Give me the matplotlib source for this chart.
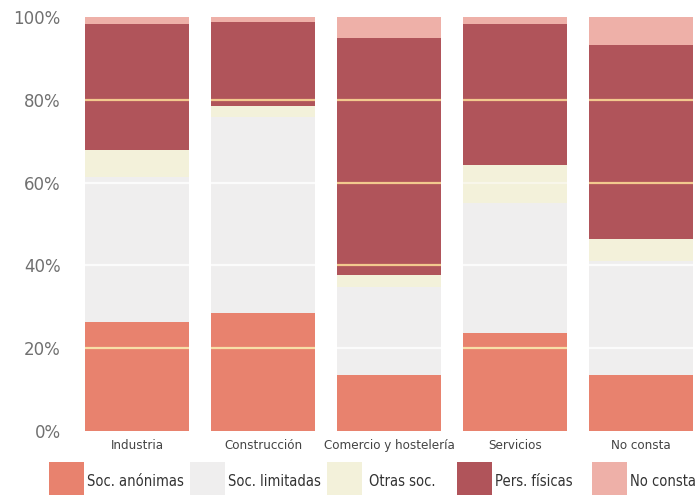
import matplotlib.pyplot as plt
import numpy as np
from matplotlib.patches import Rectangle

# Sector categories (x axis)
sectors = ["Industria", "Construcción", "Comercio y hostelería", "Servicios", "No consta"]

# Share (%) by legal form, stacked bottom to top
soc_anonimas = [26.3, 28.5, 13.5, 23.6, 13.5]
soc_limitadas = [35.0, 47.5, 21.2, 31.4, 27.5]
otras_soc = [6.6, 2.5, 2.9, 9.3, 5.5]
pers_fisicas = [30.5, 20.5, 57.4, 34.0, 46.8]
no_consta = [1.6, 1.0, 5.0, 1.7, 6.7]

series_labels = ["Soc. anónimas", "Soc. limitadas", "Otras soc.", "Pers. físicas", "No consta"]
series_values = [soc_anonimas, soc_limitadas, otras_soc, pers_fisicas, no_consta]
colors = ["#e8826e", "#efeeee", "#f3f1da", "#b0545a", "#eeb0a8"]
# grid line tint over each series (light ones wash out to white)
grid_tint = ["#f8dfa8", "#fbfbfb", "#f8f6ea", "#f2c98e", "#f8dcb8"]

yticks = [0, 20, 40, 60, 80, 100]

cond = {"family": "DejaVu Sans", "stretch": "condensed"}

fig = plt.figure(figsize=(6.97, 4.97), dpi=100)
ax = fig.add_axes([0.0933, 0.1334, 0.9067, 0.8316])

x = np.arange(len(sectors))
width = 0.83
stack = np.cumsum(np.array(series_values), axis=0)
bottom = np.zeros(len(sectors))
for vals, col in zip(series_values, colors):
    ax.bar(x, vals, width=width, bottom=bottom, color=col, edgecolor="none", zorder=1)
    bottom += np.array(vals)

# grid lines drawn across the bars only, tinted by the segment below
for i in range(len(sectors)):
    for yv in yticks[1:-1]:
        seg = int(np.searchsorted(stack[:, i], yv))
        ax.hlines(yv, x[i] - width / 2, x[i] + width / 2, color=grid_tint[seg], lw=1.6, zorder=3)

ax.set_xlim(-0.571, 4.444)
ax.set_ylim(0, 100)
ax.set_yticks(yticks)
ax.set_yticklabels([f"{v}%" for v in yticks], fontsize=12, color="#707070")
ax.tick_params(axis="y", length=0, pad=3)
ax.set_xticks(x)
ax.set_xticklabels(sectors, fontsize=9.5, color="#444444", **cond)
ax.tick_params(axis="x", length=0, pad=6)
for s in ax.spines.values():
    s.set_visible(False)

# legend row at the bottom, placed by hand like the original
W, H = 697.0, 497.0
patch_x = [49, 190, 327, 457, 592]
text_x = [87, 228, 369, 495, 630]
for px, tx, col, lab in zip(patch_x, text_x, colors, series_labels):
    fig.add_artist(Rectangle((px / W, (H - 495) / H), 35 / W, 33 / H,
                             transform=fig.transFigure, color=col, lw=0))
    fig.text(tx / W, (H - 481) / H, lab, fontsize=10.5, color="#333333",
             va="center", ha="left", **cond)

fig.savefig("out.png", dpi=100)
